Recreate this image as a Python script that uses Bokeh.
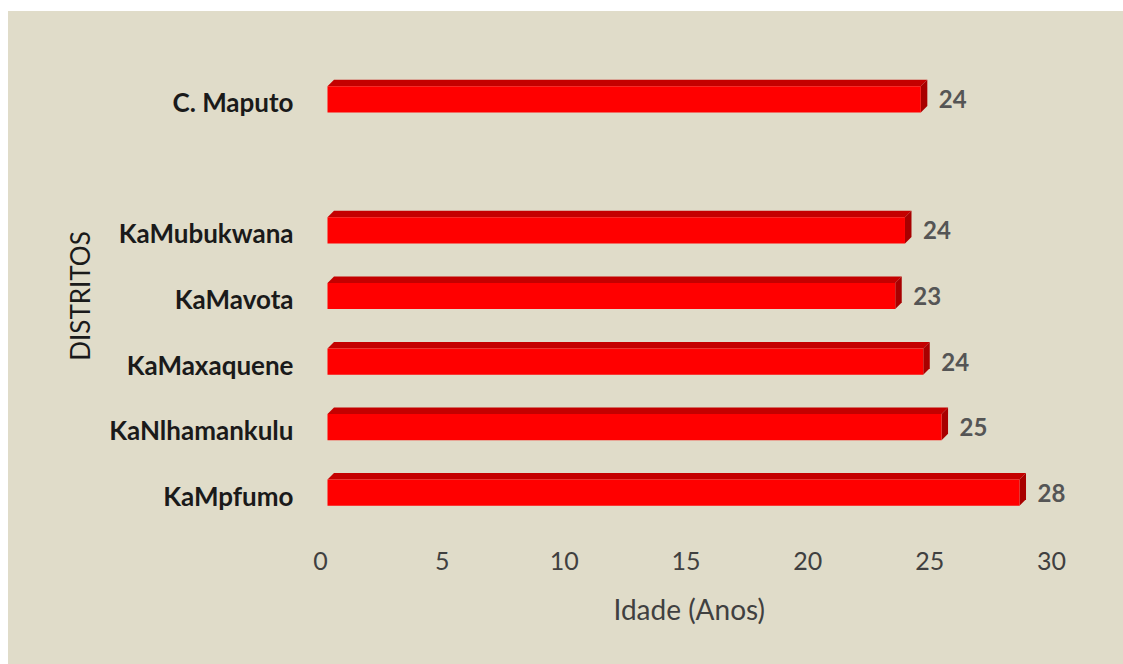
from bokeh.plotting import figure
from bokeh.models import Range1d, LinearAxis, FixedTicker, ColumnDataSource, LabelSet, Title
from bokeh.core.properties import value
from bokeh.embed import file_html
from bokeh.resources import INLINE

# ---- data ----
districts = ["KaMpfumo", "KaNlhamankulu", "KaMaxaquene", "KaMavota", "KaMubukwana", "C. Maputo"]
slots = [0, 1, 2, 3, 4, 6]          # row slots (slot 5 is an empty gap row)
ages = [28.4, 25.2, 24.45, 23.3, 23.7, 24.35]
x_ticks = [0, 5, 10, 15, 20, 25, 30]
x_max = 30

# ---- style ----
BG = "#E0DCC9"
FRONT = "#FF0000"
TOP = "#C40000"
SIDE = "#A80000"
FONT = "Lato"
W, H = 1115, 653
LEFT, TOP_B, BOTTOM = 312, 55, 139
AXIS_W = 731                       # pixels from 0 to 30
FRAME_W = 770                      # wider frame so value labels are not clipped
RIGHT = W - LEFT - FRAME_W
frame_h = H - TOP_B - BOTTOM
px_x = AXIS_W / x_max
px_y = frame_h / 7.0
shift_x = 7 / px_x          # front face starts slightly right of axis zero (3D look)
shift_y = 3 / px_y
depth_x = 6.5 / px_x
depth_y = 6.5 / px_y
bar_h = 0.40
span = FRAME_W / px_x

p = figure(width=W, height=H, output_backend="svg", toolbar_location=None,
           x_range=Range1d(-shift_x, span - shift_x), y_range=Range1d(-0.5, 6.5),
           x_axis_location=None, y_axis_location=None,
           min_border_left=LEFT, min_border_right=RIGHT,
           min_border_top=TOP_B, min_border_bottom=BOTTOM)
p.margin = (11, 0, 0, 8)
p.styles = {"background-color": BG}
p.background_fill_color = None
p.border_fill_color = None
p.outline_line_color = None
p.grid.visible = False
p.extra_x_ranges = {"ax": Range1d(0, span)}
p.extra_y_ranges = {"ax": Range1d(-0.5 + shift_y, 6.5 + shift_y)}

h2 = bar_h / 2
top_xs = [[0, depth_x, a + depth_x, a] for a in ages]
top_ys = [[s + h2, s + h2 + depth_y, s + h2 + depth_y, s + h2] for s in slots]
side_xs = [[a, a + depth_x, a + depth_x, a] for a in ages]
side_ys = [[s + h2, s + h2 + depth_y, s - h2 + depth_y, s - h2] for s in slots]

src = ColumnDataSource(dict(y=slots, right=ages, label=[str(round(a)) for a in ages],
                            top_xs=top_xs, top_ys=top_ys, side_xs=side_xs, side_ys=side_ys))

p.patches("top_xs", "top_ys", source=src, fill_color=TOP, line_color=None)
p.patches("side_xs", "side_ys", source=src, fill_color=SIDE, line_color=None)
p.hbar(y="y", left=0, right="right", height=bar_h, source=src, fill_color=FRONT, line_color=None)

labels = LabelSet(x="right", y="y", text="label", source=src, x_offset=18,
                  text_font=value(FONT), text_font_style="bold", text_font_size="24px",
                  text_color="#555555", text_baseline="middle", text_align="left")
p.add_layout(labels)

xaxis = LinearAxis(x_range_name="ax", ticker=FixedTicker(ticks=x_ticks))
xaxis.axis_line_color = None
xaxis.major_tick_line_color = None
xaxis.minor_tick_line_color = None
xaxis.major_tick_out = 0
xaxis.major_label_standoff = 26
xaxis.major_label_text_font = FONT
xaxis.major_label_text_font_size = "25px"
xaxis.major_label_text_color = "#404040"
p.add_layout(xaxis, "below")

xlabel = Title(text="Idade (Anos)", align="left", offset=293, standoff=34,
               text_font=FONT, text_font_size="28px", text_font_style="normal",
               text_color="#404040")
p.add_layout(xlabel, "below")

yaxis = LinearAxis(y_range_name="ax", ticker=FixedTicker(ticks=slots),
                   major_label_overrides={s: d for s, d in zip(slots, districts)},
                   axis_label="DISTRITOS")
yaxis.axis_line_color = None
yaxis.major_tick_line_color = None
yaxis.minor_tick_line_color = None
yaxis.major_tick_out = 0
yaxis.major_label_standoff = 27
yaxis.major_label_text_font = FONT
yaxis.major_label_text_font_size = "26px"
yaxis.major_label_text_font_style = "bold"
yaxis.major_label_text_color = "#1a1a1a"
yaxis.axis_label_text_font = FONT
yaxis.axis_label_text_font_size = "26px"
yaxis.axis_label_text_font_style = "normal"
yaxis.axis_label_text_color = "#1a1a1a"
yaxis.axis_label_standoff = 10
p.add_layout(yaxis, "left")

open("out.html", "w").write(file_html(p, INLINE))
